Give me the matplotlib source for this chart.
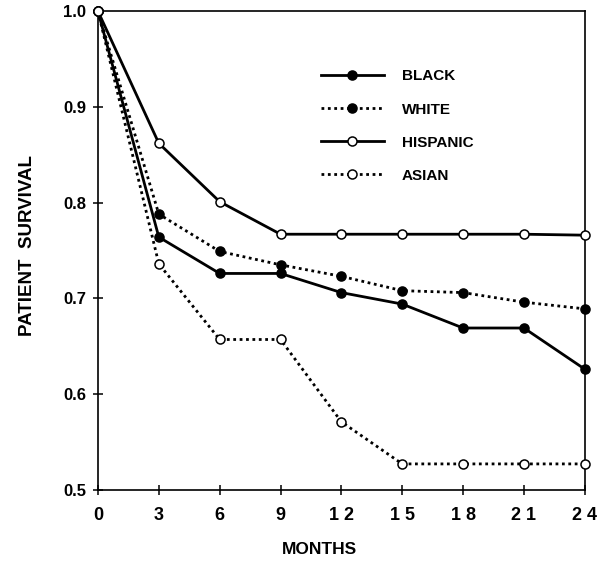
import matplotlib
matplotlib.use('Agg')
import matplotlib.pyplot as plt

# 读取自原图的数据
months = [0, 3, 6, 9, 12, 15, 18, 21, 24]
black = [1.0, 0.764, 0.726, 0.726, 0.706, 0.694, 0.669, 0.669, 0.626]
white = [1.0, 0.788, 0.749, 0.735, 0.723, 0.708, 0.706, 0.696, 0.689]
hispanic = [1.0, 0.862, 0.801, 0.767, 0.767, 0.767, 0.767, 0.767, 0.766]
asian = [1.0, 0.736, 0.657, 0.657, 0.571, 0.527, 0.527, 0.527, 0.527]

x_tick_labels = ['0', '3', '6', '9', '1 2', '1 5', '1 8', '2 1', '2 4']
y_ticks = [0.5, 0.6, 0.7, 0.8, 0.9, 1.0]

plt.rcParams['font.family'] = ['Liberation Sans', 'DejaVu Sans']
plt.rcParams['font.weight'] = 'bold'

fig = plt.figure(figsize=(6.01, 5.61), dpi=100)
ax = fig.add_axes([0.163, 0.127, 0.81, 0.853])

dotted = (0, (1.0, 1.3))
common = dict(color='black', linewidth=2.0, markersize=6.5, markeredgewidth=1.1,
              markeredgecolor='black', clip_on=False, zorder=3)

ax.plot(months, black, linestyle='-', marker='o', markerfacecolor='black',
        label='BLACK', **common)
ax.plot(months, white, linestyle=dotted, marker='o', markerfacecolor='black',
        label='WHITE', **common)
ax.plot(months, hispanic, linestyle='-', marker='o', markerfacecolor='white',
        label='HISPANIC', **common)
ax.plot(months, asian, linestyle=dotted, marker='o', markerfacecolor='white',
        label='ASIAN', **common)

ax.set_xlim(0, 24)
ax.set_ylim(0.5, 1.0)
ax.set_xticks(months)
ax.set_xticklabels(x_tick_labels, fontsize=13, fontweight='bold')
ax.set_yticks(y_ticks)
ax.set_yticklabels([f'{v:.1f}' for v in y_ticks], fontsize=12, fontweight='bold')
ax.tick_params(axis='both', direction='inout', length=7, width=1.1, color='black')
ax.tick_params(axis='x', pad=9)
ax.tick_params(axis='y', pad=5)

for sp in ax.spines.values():
    sp.set_linewidth(1.2)

ax.set_xlabel('MONTHS', fontsize=12.5, fontweight='bold')
ax.xaxis.set_label_coords(0.454, -0.11)
ax.set_ylabel('PATIENT  SURVIVAL', fontsize=13.5, fontweight='bold')
ax.yaxis.set_label_coords(-0.127, 0.51)

leg = ax.legend(loc='upper left', bbox_to_anchor=(0.43, 0.907), frameon=False,
                handlelength=4.1, handletextpad=1.2, labelspacing=1.25,
                prop={'family': 'Liberation Sans', 'weight': 'bold', 'size': 11})

fig.savefig('out.png', dpi=100)
